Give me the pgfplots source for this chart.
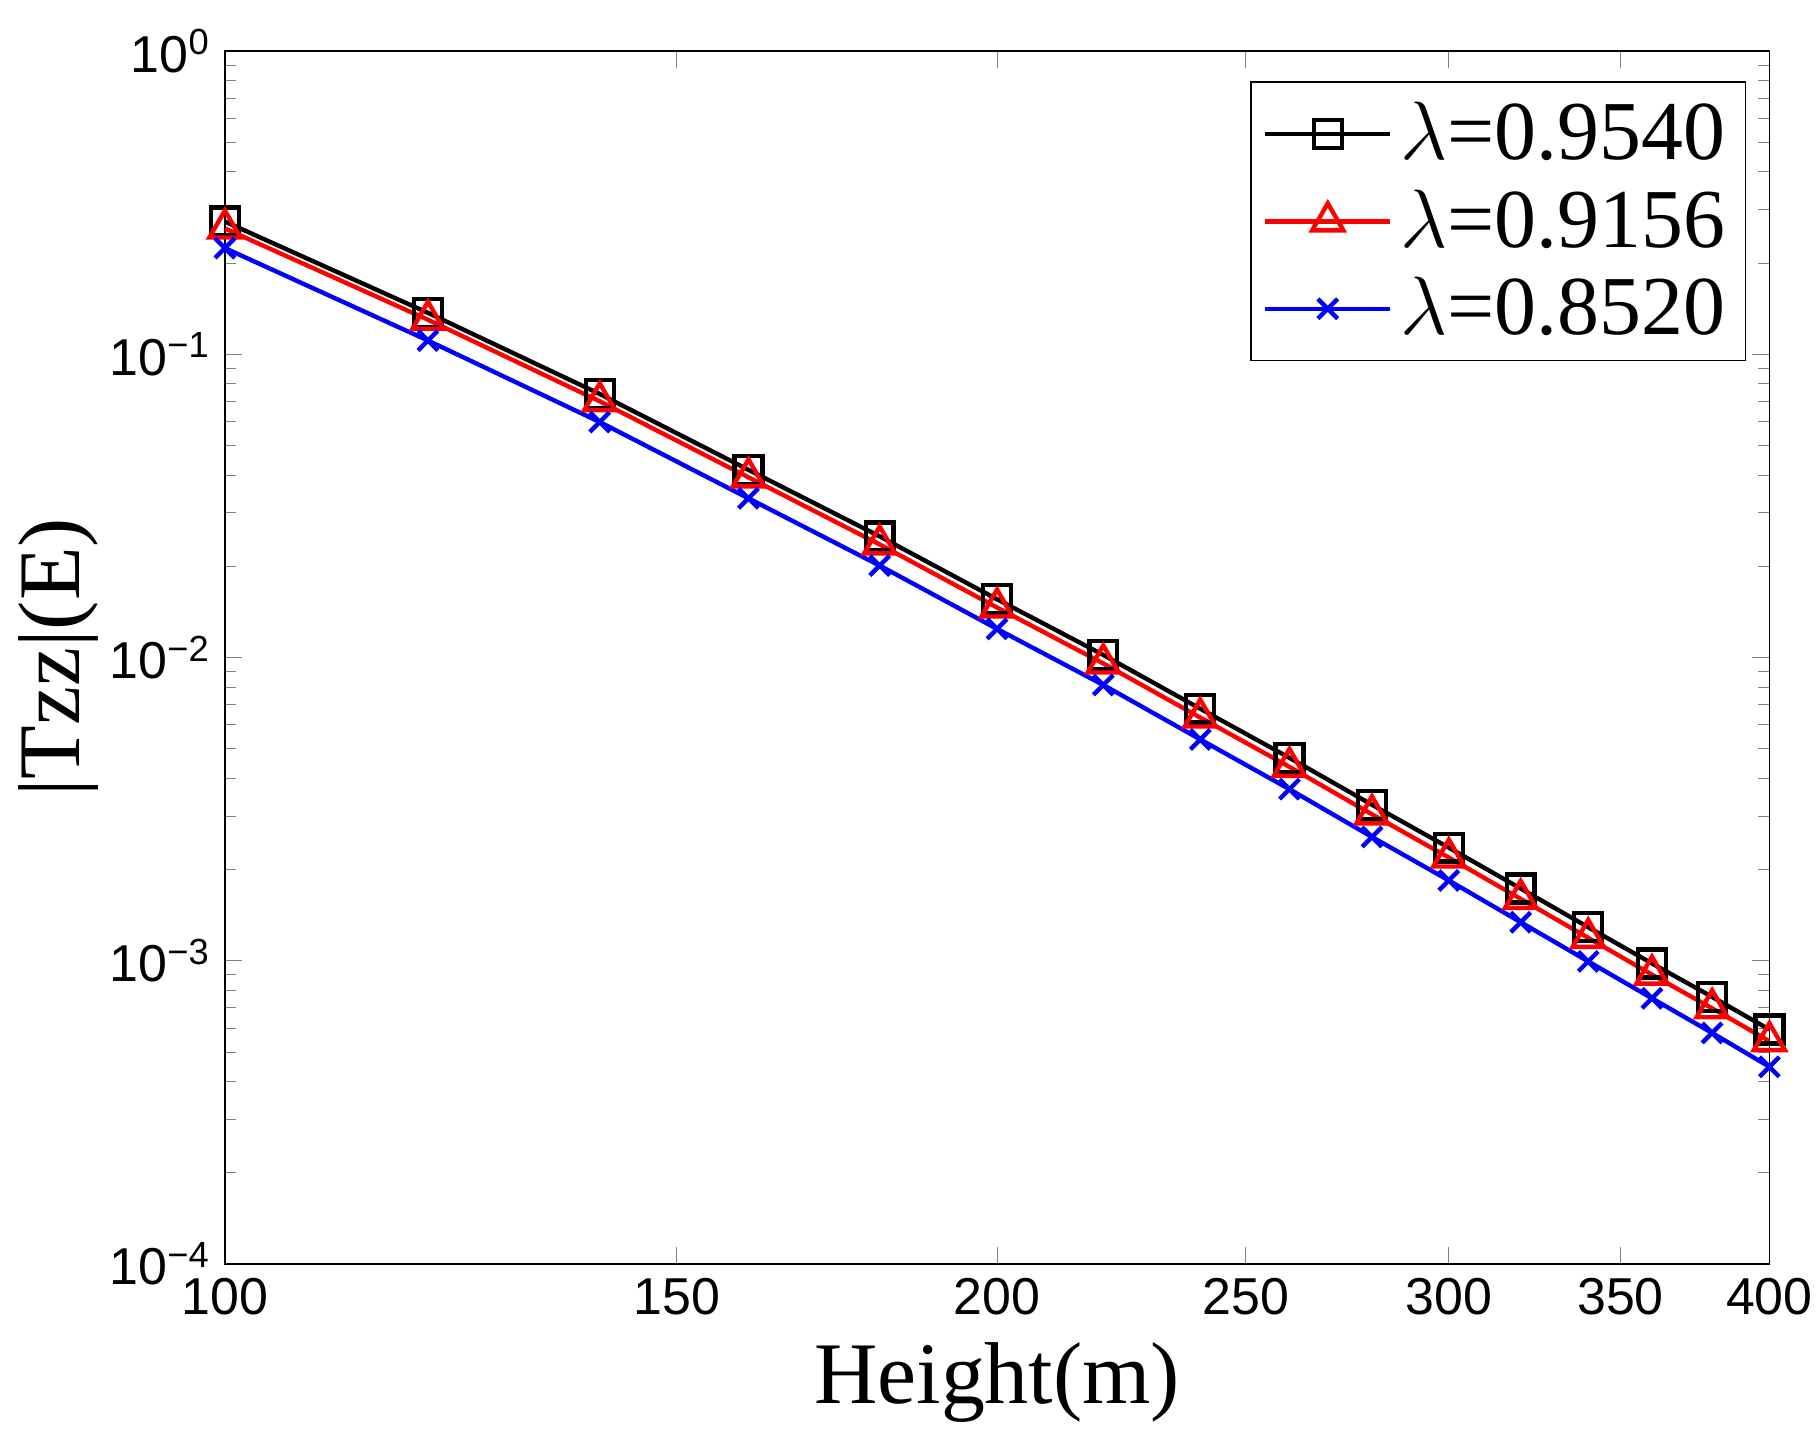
\documentclass[border=0pt]{standalone}
\usepackage{pgfplots}
\pgfplotsset{compat=1.18}
\usepackage{fontspec}
\setmainfont{Liberation Serif}
\newfontfamily\tickfont{Liberation Sans}
\begin{document}
\begin{tikzpicture}
\useasboundingbox (-1.98cm,-1.66cm) rectangle (14.02cm,11.13cm);
\begin{axis}[
  at={(0,0)}, anchor=south west,
  width=13.6cm, height=10.68cm, scale only axis,
  xmode=log, ymode=log,
  xmin=100, xmax=400, ymin=1e-4, ymax=1,
  xtick={100,150,200,250,300,350,400},
  xticklabels={100,150,200,250,300,350,400},
  ytick={1e-4,1e-3,1e-2,1e-1,1},
  yticklabels={10\textsuperscript{−4},10\textsuperscript{−3},10\textsuperscript{−2},10\textsuperscript{−1},10\textsuperscript{0}},
  tick align=inside,
  ticklabel style={font=\tickfont\fontsize{13}{15}\selectfont},
  /pgf/number format/assume math mode=true,
  xlabel={Height(m)}, ylabel={|Tzz|(E)},
  label style={font=\fontsize{22}{26}\selectfont},
  ylabel style={yshift=-4pt},
  legend style={at={(0.985,0.975)}, anchor=north east, font=\fontsize{21}{25}\selectfont, draw=black, inner sep=3pt, row sep=2pt},
  legend cell align=left,
  legend image code/.code={\draw[#1,mark repeat=2,mark phase=2] plot coordinates {(0cm,0cm)(0.55cm,0cm)(1.1cm,0cm)};},
  every axis plot/.append style={line width=1.1pt},
]
\addplot[black, mark=square, mark size=3.5pt] coordinates {
(100,0.274)(120,0.137)(140,0.074)(160,0.0416)(180,0.0251)(200,0.01557)(220,0.0102)(240,0.00678)(260,0.00467)(280,0.00327)(300,0.00236)(320,0.00173)(340,0.00129)(360,0.00098)(380,0.00076)(400,0.000593)};
\addlegendentry{$\lambda$=0.9540}
\addplot[red, mark=triangle, mark size=4.5pt] coordinates {
(100,0.260)(120,0.130)(140,0.0700)(160,0.0393)(180,0.0236)(200,0.01462)(220,0.00956)(240,0.00634)(260,0.00436)(280,0.00304)(300,0.00219)(320,0.00160)(340,0.00119)(360,0.000900)(380,0.000697)(400,0.000543)};
\addlegendentry{$\lambda$=0.9156}
\addplot[blue, mark=x, mark size=3.5pt] coordinates {
(100,0.224)(120,0.111)(140,0.0598)(160,0.0335)(180,0.0201)(200,0.01243)(220,0.00812)(240,0.00537)(260,0.00368)(280,0.00256)(300,0.00184)(320,0.00134)(340,0.000995)(360,0.000752)(380,0.000578)(400,0.000447)};
\addlegendentry{$\lambda$=0.8520}
\end{axis}
\end{tikzpicture}
\end{document}
